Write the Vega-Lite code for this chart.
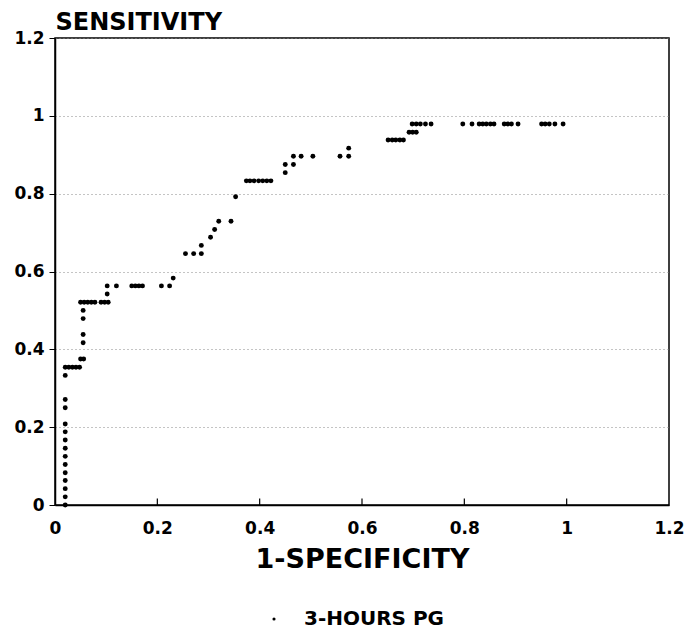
{
  "$schema": "https://vega.github.io/schema/vega-lite/v6.json",
  "width": 614,
  "height": 467,
  "autosize": {"type": "none"},
  "padding": {"left": 55, "top": 38, "right": 19, "bottom": 128},
  "background": "white",
  "config": {
    "font": "DejaVu Sans",
    "view": {"stroke": "black", "strokeWidth": 1.5},
    "axis": {"domainColor": "black", "domainWidth": 1.5, "tickColor": "black", "labelColor": "black", "titleColor": "black", "labelFont": "DejaVu Sans", "titleFont": "DejaVu Sans", "labelFontWeight": "bold", "titleFontWeight": "bold"}
  },
  "layer": [
    {
      "data": {
        "values": [
          {"fpr": 0.02, "sens": 0.0}, {"fpr": 0.02, "sens": 0.021}, {"fpr": 0.02, "sens": 0.042}, {"fpr": 0.02, "sens": 0.063},
          {"fpr": 0.02, "sens": 0.083}, {"fpr": 0.02, "sens": 0.104}, {"fpr": 0.02, "sens": 0.125}, {"fpr": 0.02, "sens": 0.146},
          {"fpr": 0.02, "sens": 0.167}, {"fpr": 0.02, "sens": 0.188}, {"fpr": 0.02, "sens": 0.208}, {"fpr": 0.02, "sens": 0.25},
          {"fpr": 0.02, "sens": 0.271}, {"fpr": 0.02, "sens": 0.333},
          {"fpr": 0.02, "sens": 0.354}, {"fpr": 0.027, "sens": 0.354}, {"fpr": 0.034, "sens": 0.354}, {"fpr": 0.041, "sens": 0.354}, {"fpr": 0.048, "sens": 0.354},
          {"fpr": 0.05, "sens": 0.375}, {"fpr": 0.056, "sens": 0.375},
          {"fpr": 0.055, "sens": 0.417}, {"fpr": 0.055, "sens": 0.438}, {"fpr": 0.055, "sens": 0.479}, {"fpr": 0.055, "sens": 0.5},
          {"fpr": 0.05, "sens": 0.521}, {"fpr": 0.057, "sens": 0.521}, {"fpr": 0.064, "sens": 0.521}, {"fpr": 0.071, "sens": 0.521}, {"fpr": 0.078, "sens": 0.521},
          {"fpr": 0.09, "sens": 0.521}, {"fpr": 0.097, "sens": 0.521}, {"fpr": 0.104, "sens": 0.521},
          {"fpr": 0.102, "sens": 0.542},
          {"fpr": 0.102, "sens": 0.563}, {"fpr": 0.12, "sens": 0.563}, {"fpr": 0.15, "sens": 0.563}, {"fpr": 0.157, "sens": 0.563},
          {"fpr": 0.164, "sens": 0.563}, {"fpr": 0.171, "sens": 0.563}, {"fpr": 0.208, "sens": 0.563}, {"fpr": 0.224, "sens": 0.563},
          {"fpr": 0.231, "sens": 0.583},
          {"fpr": 0.255, "sens": 0.646}, {"fpr": 0.271, "sens": 0.646}, {"fpr": 0.286, "sens": 0.646},
          {"fpr": 0.286, "sens": 0.667}, {"fpr": 0.304, "sens": 0.688}, {"fpr": 0.312, "sens": 0.708},
          {"fpr": 0.32, "sens": 0.729}, {"fpr": 0.344, "sens": 0.729},
          {"fpr": 0.353, "sens": 0.792},
          {"fpr": 0.374, "sens": 0.833}, {"fpr": 0.381, "sens": 0.833}, {"fpr": 0.389, "sens": 0.833}, {"fpr": 0.398, "sens": 0.833},
          {"fpr": 0.406, "sens": 0.833}, {"fpr": 0.414, "sens": 0.833}, {"fpr": 0.422, "sens": 0.833},
          {"fpr": 0.45, "sens": 0.854}, {"fpr": 0.45, "sens": 0.875}, {"fpr": 0.466, "sens": 0.875},
          {"fpr": 0.466, "sens": 0.896}, {"fpr": 0.481, "sens": 0.896}, {"fpr": 0.504, "sens": 0.896}, {"fpr": 0.557, "sens": 0.896}, {"fpr": 0.574, "sens": 0.896},
          {"fpr": 0.574, "sens": 0.917},
          {"fpr": 0.651, "sens": 0.938}, {"fpr": 0.659, "sens": 0.938}, {"fpr": 0.666, "sens": 0.938}, {"fpr": 0.674, "sens": 0.938}, {"fpr": 0.681, "sens": 0.938},
          {"fpr": 0.692, "sens": 0.958}, {"fpr": 0.699, "sens": 0.958}, {"fpr": 0.706, "sens": 0.958},
          {"fpr": 0.698, "sens": 0.979}, {"fpr": 0.706, "sens": 0.979}, {"fpr": 0.714, "sens": 0.979}, {"fpr": 0.724, "sens": 0.979},
          {"fpr": 0.735, "sens": 0.979}, {"fpr": 0.797, "sens": 0.979}, {"fpr": 0.815, "sens": 0.979}, {"fpr": 0.829, "sens": 0.979},
          {"fpr": 0.836, "sens": 0.979}, {"fpr": 0.843, "sens": 0.979}, {"fpr": 0.851, "sens": 0.979}, {"fpr": 0.858, "sens": 0.979},
          {"fpr": 0.878, "sens": 0.979}, {"fpr": 0.885, "sens": 0.979}, {"fpr": 0.892, "sens": 0.979}, {"fpr": 0.905, "sens": 0.979},
          {"fpr": 0.951, "sens": 0.979}, {"fpr": 0.958, "sens": 0.979}, {"fpr": 0.966, "sens": 0.979}, {"fpr": 0.977, "sens": 0.979},
          {"fpr": 0.993, "sens": 0.979}
        ]
      },
      "transform": [{"calculate": "'3-HOURS PG'", "as": "series"}],
      "mark": {"type": "circle", "size": 24, "opacity": 1},
      "encoding": {
        "x": {
          "field": "fpr", "type": "quantitative",
          "scale": {"domain": [0, 1.2], "nice": false, "zero": true},
          "axis": {
            "title": "1-SPECIFICITY", "titleFontSize": 27, "titlePadding": 10,
            "values": [0, 0.2, 0.4, 0.6, 0.8, 1, 1.2], "format": "~g",
            "labelFontSize": 17, "labelPadding": 15, "ticks": false,
            "grid": false, "labelFlush": false
          }
        },
        "y": {
          "field": "sens", "type": "quantitative",
          "scale": {"domain": [0, 1.2], "nice": false, "zero": true},
          "axis": {
            "title": "SENSITIVITY", "titleFontSize": 24, "titleAngle": 0, "titleAlign": "left",
            "titleBaseline": "alphabetic", "titleX": 0, "titleY": -9,
            "values": [0, 0.2, 0.4, 0.6, 0.8, 1, 1.2], "format": "~g",
            "labelFontSize": 17, "labelPadding": 5, "tickSize": 6, "tickWidth": 1,
            "grid": true, "gridColor": "#888888", "gridDash": [1, 3], "gridWidth": 1,
            "labelFlush": false
          }
        },
        "color": {
          "field": "series", "type": "nominal",
          "scale": {"range": ["black"]},
          "legend": {
            "title": null, "orient": "none", "legendX": 209, "legendY": 571,
            "symbolType": "circle", "symbolSize": 10, "symbolFillColor": "black",
            "labelFont": "DejaVu Sans", "labelFontWeight": "bold", "labelFontSize": 20,
            "labelColor": "black", "labelOffset": 20, "padding": 0
          }
        }
      }
    },
    {
      "data": {"values": [{"tick": 0.2}, {"tick": 0.4}, {"tick": 0.6}, {"tick": 0.8}, {"tick": 1.0}]},
      "mark": {"type": "rule", "color": "black", "strokeWidth": 1.2},
      "encoding": {
        "x": {"field": "tick", "type": "quantitative"},
        "y": {"datum": 0},
        "y2": {"datum": 0.017}
      }
    }
  ]
}
